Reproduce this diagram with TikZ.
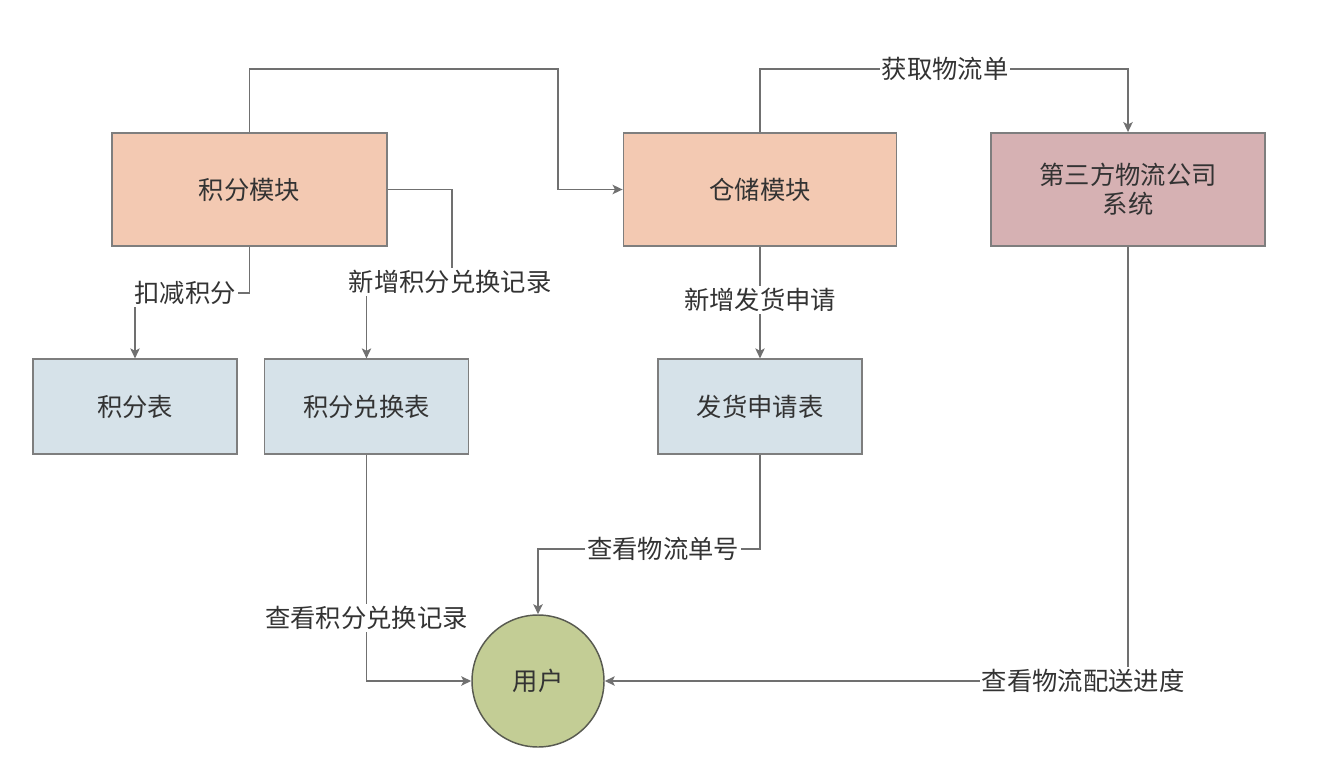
\documentclass[tikz,border=0pt]{standalone}
\usepackage{fontspec}
\newfontfamily\cjk{Noto Sans CJK SC}
\usetikzlibrary{arrows.meta,positioning,calc}
\definecolor{salmon}{HTML}{F3C9B2}
\definecolor{pinkbox}{HTML}{D6B1B3}
\definecolor{bluebox}{HTML}{D6E2E9}
\definecolor{greenc}{HTML}{C3CD95}
\definecolor{edgegray}{HTML}{7E7E7E}
\definecolor{linegray}{HTML}{707070}
\definecolor{txt}{HTML}{333333}
\tikzset{
  txtfont/.style={font=\cjk\fontsize{19}{22}\selectfont, text=txt},
  modbox/.style={draw=edgegray, line width=1.1pt, fill=salmon, minimum width=206pt, minimum height=85pt, txtfont},
  extbox/.style={draw=edgegray, line width=1.1pt, fill=pinkbox, minimum width=205.5pt, minimum height=85pt, txtfont, align=center},
  tblbox/.style={draw=edgegray, line width=1.1pt, fill=bluebox, minimum width=153pt, minimum height=71pt, txtfont},
  usercirc/.style={circle, draw=edgegray!70!greenc!60!black, line width=1.1pt, fill=greenc, minimum size=99pt, txtfont},
  conn/.style={draw=linegray, line width=1.3pt, -{Stealth[length=7.5pt,width=7pt,inset=1.8pt]}},
  elabel/.style={fill=white, inner sep=1.5pt, txtfont}
}
\begin{document}
\begin{tikzpicture}[x=0.75pt,y=-0.75pt]
\fill[white] (0,0) rectangle (1342,778);
\useasboundingbox (0,0) rectangle (1342,778);

\node[modbox] (jfmk) at (249.5,189.5) {积分模块};
\node[modbox, minimum width=205pt] (ccmk) at (760,189.5) {仓储模块};
\node[extbox] (dsf) at (1128,189.5) {第三方物流公司\\系统};
\node[tblbox] (jfb) at (135,406.5) {积分表};
\node[tblbox] (jfdhb) at (366.5,406.5) {积分兑换表};
\node[tblbox] (fhsqb) at (760,406.5) {发货申请表};
\node[usercirc] (yh) at (538,681) {用户};

\coordinate (t1) at (558,69);
\coordinate (t4) at (945,69);
\coordinate (b2) at (452,282);
\coordinate (b3) at (135,293);
\coordinate (b6) at (663,549);

% 积分模块 -> 仓储模块
\draw[conn] (jfmk.north) |- (t1) |- (ccmk.west);
% 积分模块 -> 积分兑换表
\draw[conn] (jfmk.east) -| (b2) -| (jfdhb.north);
\node[elabel] (l2) at (450,282) {新增积分兑换记录};
% 积分模块 -> 积分表
\draw[conn] (jfmk.south) |- (b3) -- (jfb.north);
\node[elabel] (l3) at (185,293) {扣减积分};
% 仓储模块 -> 第三方
\draw[conn] (ccmk.north) |- (t4) -| (dsf.north);
\node[elabel] (l4) at (945,69) {获取物流单};
% 仓储模块 -> 发货申请表
\draw[conn] (ccmk.south) -- (fhsqb.north);
\node[elabel] (l5) at (760,300) {新增发货申请};
% 发货申请表 -> 用户
\draw[conn] (fhsqb.south) |- (b6) -| (yh.north);
\node[elabel] (l6) at (663,549) {查看物流单号};
% 积分兑换表 -> 用户
\draw[conn] (jfdhb.south) |- (yh.west);
\node[elabel] (l7) at (366.5,618) {查看积分兑换记录};
% 第三方 -> 用户
\draw[conn] (dsf.south) |- (yh.east);
\node[elabel] (l8) at (1083,681) {查看物流配送进度};
\end{tikzpicture}
\end{document}
